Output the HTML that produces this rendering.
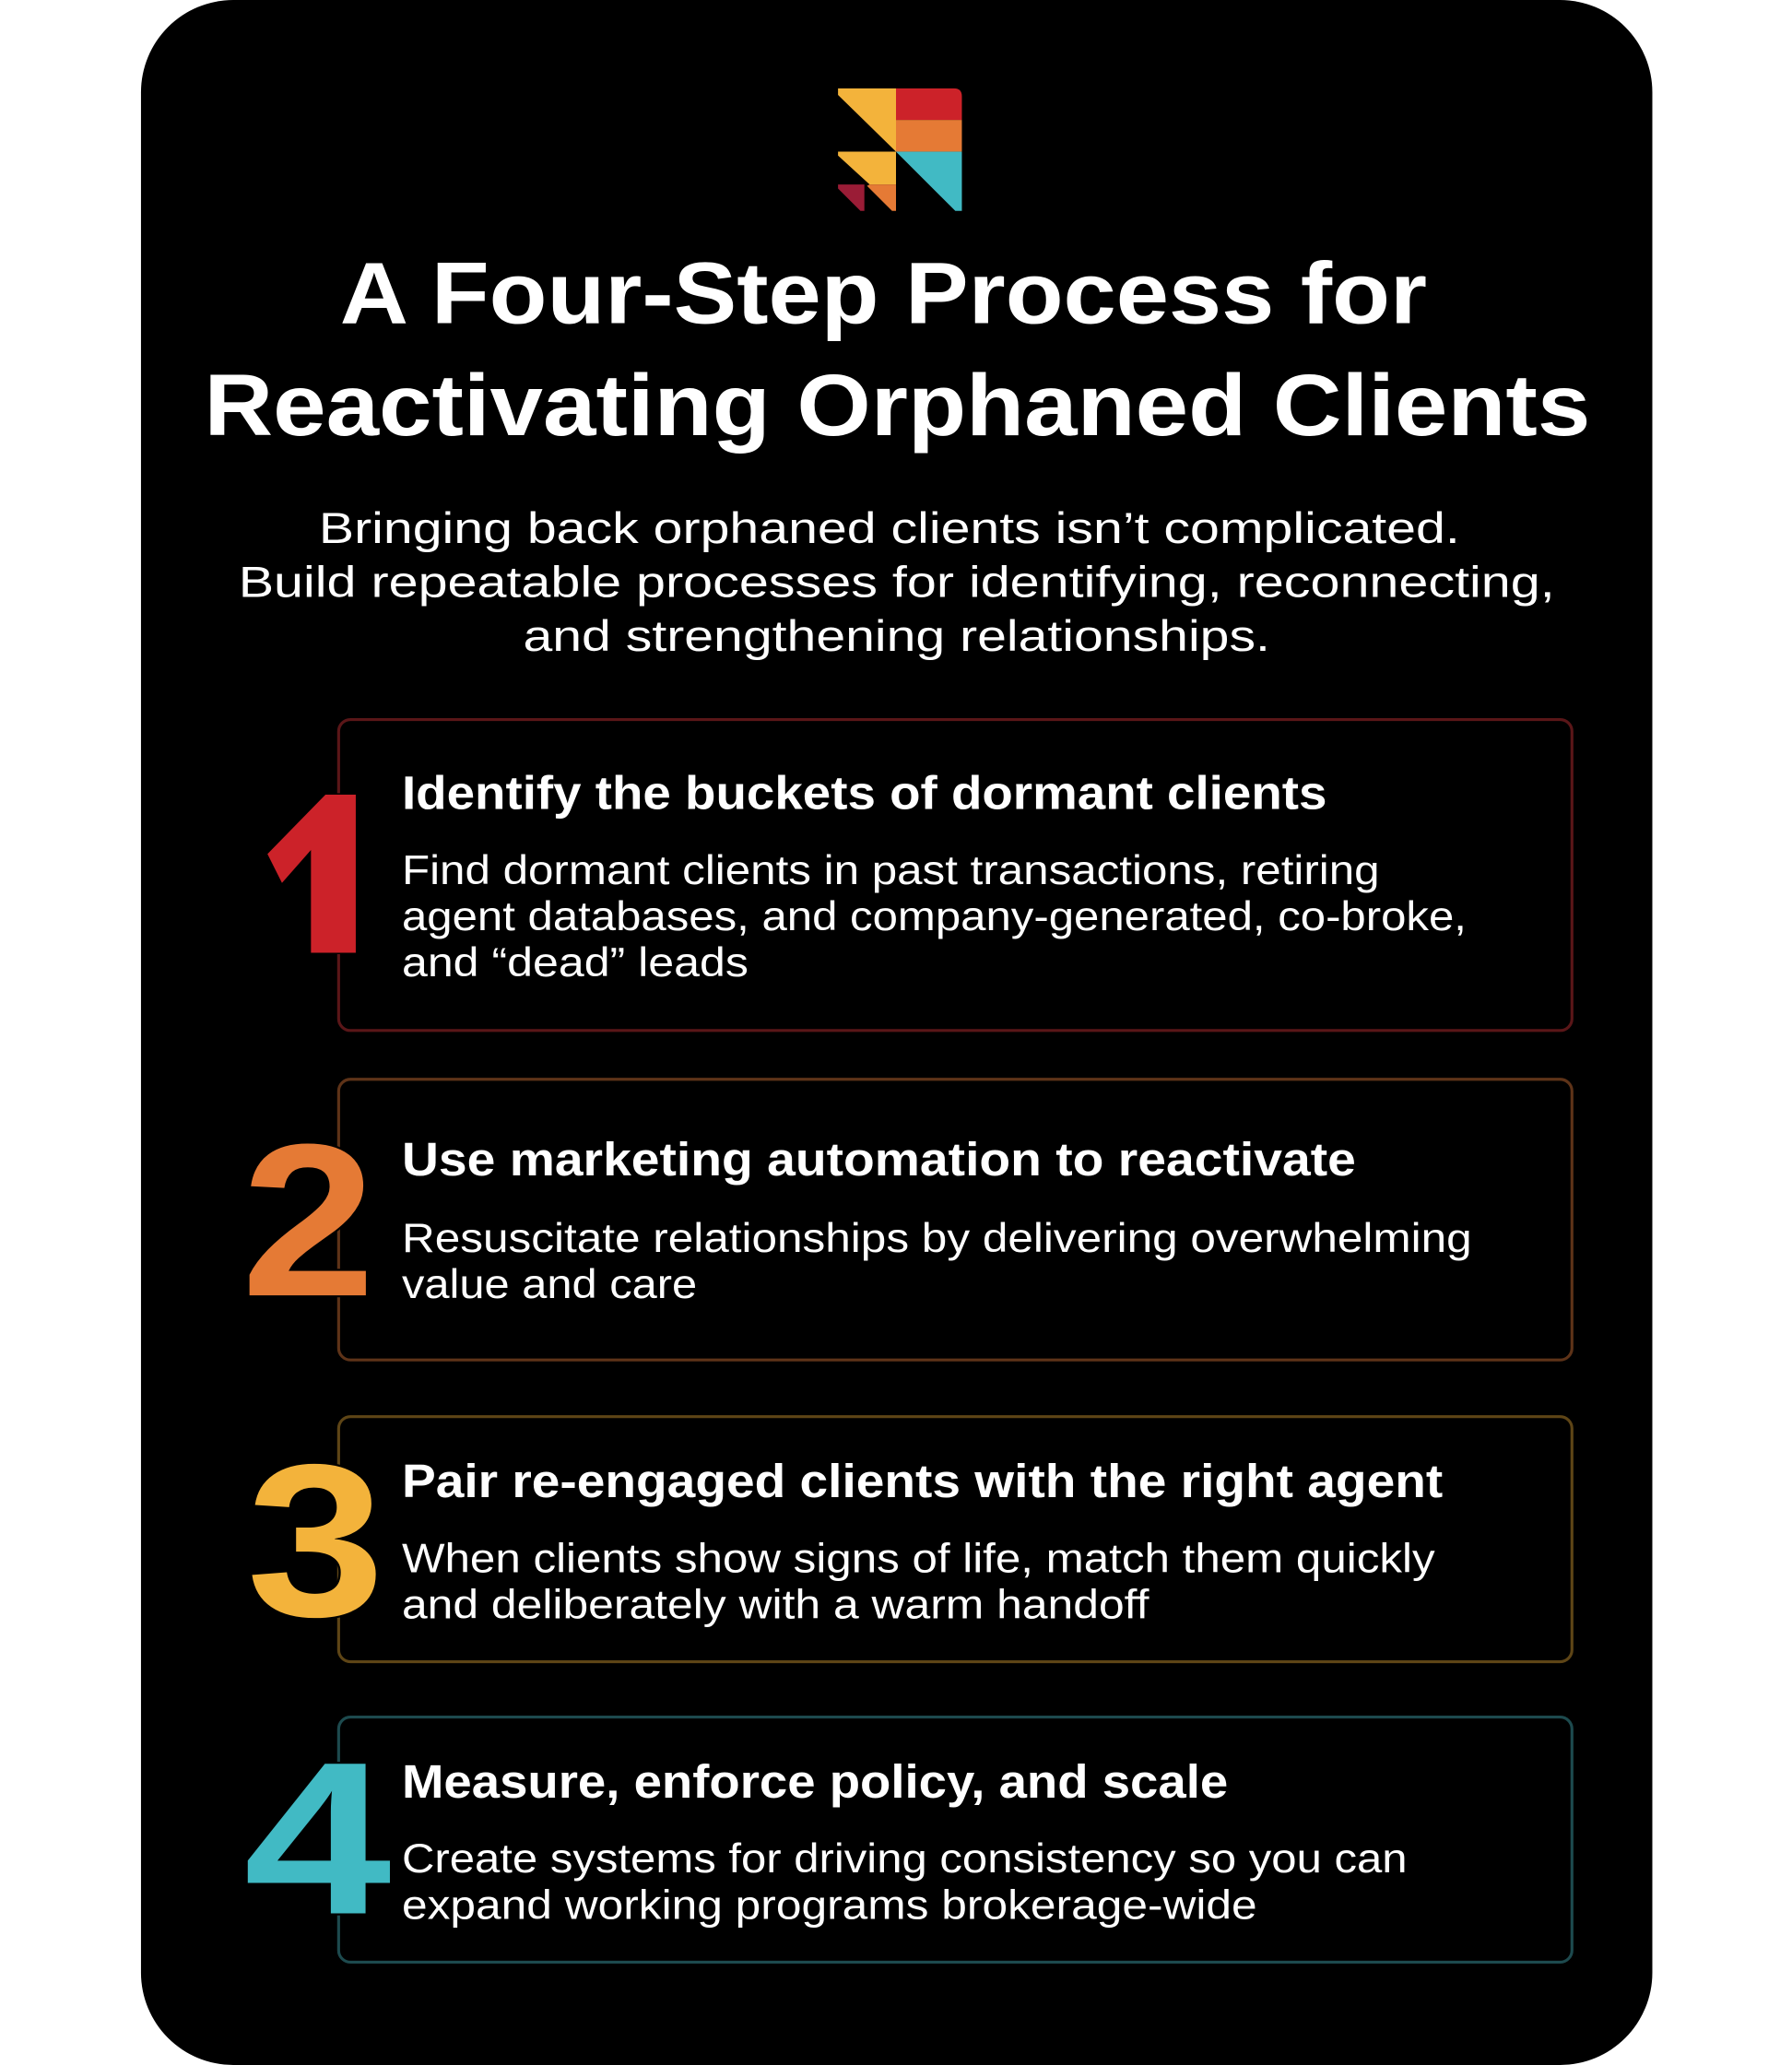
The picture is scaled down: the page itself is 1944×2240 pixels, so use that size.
<!DOCTYPE html>
<html><head><meta charset="utf-8"><style>html,body{margin:0;padding:0;background:#fff}svg{display:block}</style></head>
<body>
<svg xmlns="http://www.w3.org/2000/svg" width="1944" height="2240" viewBox="0 0 1360 1567">
<rect x="0" y="0" width="1360" height="1567" fill="#fff"/>
<rect x="107" y="0" width="1147" height="1567" rx="70" fill="#000"/>
<g>
<polygon points="636,67 680,67 680,115 636,72" fill="#f3b33b"/>
<path d="M680,67 H724 Q730,67 730,73 V91 H680 Z" fill="#cc2229"/>
<rect x="680" y="91" width="50" height="24" fill="#e57a35"/>
<polygon points="680,115 730,115 730,160 725,160" fill="#41bac4"/>
<polygon points="636,115 680,115 680,140 660,140 636,118" fill="#f3b33b"/>
<polygon points="660,140 680,140 680,160 677,160 658,141" fill="#e57a35"/>
<polygon points="636,140 656,140 656,160 653,160 636,143" fill="#9a1c36"/>
</g>
<g font-family="Liberation Sans, sans-serif" fill="#fff">
<text x="258" y="245" font-size="66" font-weight="bold" textLength="825" lengthAdjust="spacingAndGlyphs">A Four-Step Process for</text>
<text x="155" y="330" font-size="66" font-weight="bold" textLength="1052" lengthAdjust="spacingAndGlyphs">Reactivating Orphaned Clients</text>
<text x="242" y="412" font-size="33" textLength="866" lengthAdjust="spacingAndGlyphs">Bringing back orphaned clients isn’t complicated.</text>
<text x="181" y="453" font-size="33" textLength="999" lengthAdjust="spacingAndGlyphs">Build repeatable processes for identifying, reconnecting,</text>
<text x="397" y="494" font-size="33" textLength="567" lengthAdjust="spacingAndGlyphs">and strengthening relationships.</text>
</g>
<g fill="none" stroke-width="2.2">
<rect x="257" y="546" width="936" height="236" rx="9" stroke="#5a1618"/>
<rect x="257" y="819" width="936" height="213" rx="9" stroke="#5e3318"/>
<rect x="257" y="1075" width="936" height="186" rx="9" stroke="#5e4516"/>
<rect x="257" y="1303" width="936" height="186" rx="9" stroke="#1d4a4e"/>
</g>
<polygon points="247,603 270,603 270,723 236,723 236,645 214,670 203,648" fill="#cc2229" stroke="#000" stroke-width="2" paint-order="stroke"/>
<g font-family="Liberation Sans, sans-serif" font-weight="bold" font-size="165" stroke="#000" stroke-width="3" paint-order="stroke">
<text x="183" y="983" fill="#e57a35" textLength="102" lengthAdjust="spacingAndGlyphs">2</text>
<text x="187" y="1226" fill="#f3b33b" textLength="105" lengthAdjust="spacingAndGlyphs">3</text>
<text x="185" y="1452" fill="#41bac4" textLength="112" lengthAdjust="spacingAndGlyphs">4</text>
</g>
<g font-family="Liberation Sans, sans-serif" fill="#fff">
<g font-weight="bold" font-size="36">
<text x="305" y="614" textLength="702" lengthAdjust="spacingAndGlyphs">Identify the buckets of dormant clients</text>
<text x="305" y="892" textLength="724" lengthAdjust="spacingAndGlyphs">Use marketing automation to reactivate</text>
<text x="305" y="1136" textLength="790" lengthAdjust="spacingAndGlyphs">Pair re-engaged clients with the right agent</text>
<text x="305" y="1364" textLength="627" lengthAdjust="spacingAndGlyphs">Measure, enforce policy, and scale</text>
</g>
<g font-size="31">
<text x="305" y="671" textLength="742" lengthAdjust="spacingAndGlyphs">Find dormant clients in past transactions, retiring</text>
<text x="305" y="706" textLength="808" lengthAdjust="spacingAndGlyphs">agent databases, and company-generated, co-broke,</text>
<text x="305" y="741" textLength="263" lengthAdjust="spacingAndGlyphs">and “dead” leads</text>
<text x="305" y="950" textLength="812" lengthAdjust="spacingAndGlyphs">Resuscitate relationships by delivering overwhelming</text>
<text x="305" y="985" textLength="224" lengthAdjust="spacingAndGlyphs">value and care</text>
<text x="305" y="1193" textLength="784" lengthAdjust="spacingAndGlyphs">When clients show signs of life, match them quickly</text>
<text x="305" y="1228" textLength="567" lengthAdjust="spacingAndGlyphs">and deliberately with a warm handoff</text>
<text x="305" y="1421" textLength="763" lengthAdjust="spacingAndGlyphs">Create systems for driving consistency so you can</text>
<text x="305" y="1456" textLength="649" lengthAdjust="spacingAndGlyphs">expand working programs brokerage-wide</text>
</g>
</g>
</svg>
</body></html>
